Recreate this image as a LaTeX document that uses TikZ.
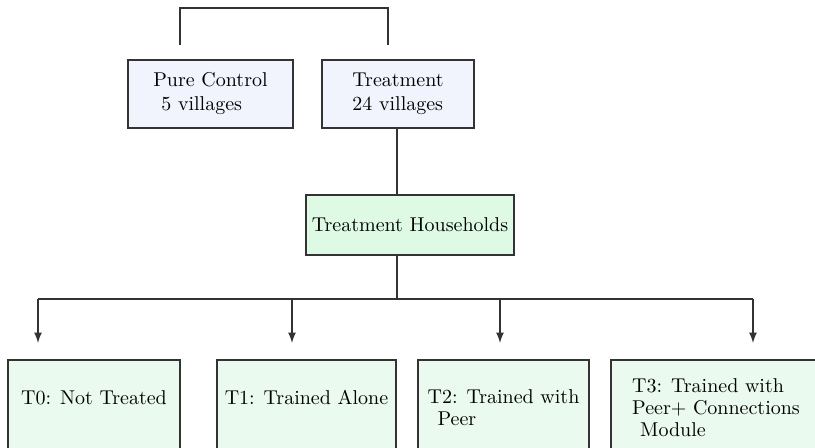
\documentclass[tikz,border=0pt]{standalone}
\usepackage{amsmath}
\usepackage{tikz}
\definecolor{villageblue}{RGB}{241,244,253}
\definecolor{hhgreen}{RGB}{222,250,229}
\definecolor{armgreen}{RGB}{235,250,239}

\begin{document}
\begin{tikzpicture}[x=0.5pt,y=-0.5pt,thick,draw=black!80]
\tikzstyle{box}=[draw=black!80,rectangle,inner sep=3pt,align=left]
\tikzstyle{village}=[box,fill=villageblue,minimum height=34pt]
\tikzstyle{hh}=[box,fill=hhgreen,minimum width=104pt,minimum height=30pt]
\tikzstyle{arm}=[box,fill=armgreen,anchor=north,minimum height=48pt,
  execute at begin node=\setlength{\baselineskip}{11pt}]

\useasboundingbox (0,0) rectangle (815,448);

\node[village,minimum width=82.5pt] (pc) at (210.5,94) {Pure Control\\\hspace{4pt}5 villages};
\node[village,minimum width=76pt] (tr) at (398,94) {Treatment\\24 villages};
\node[hh] (hh) at (410,225) {Treatment Households};

\node[arm,minimum width=86pt,text depth=10pt] (t0) at (94,359) {T0: Not Treated};
\node[arm,minimum width=89.5pt,text depth=10pt] (t1) at (306.5,359) {T1: Trained Alone};
\node[arm,minimum width=85.5pt] (t2) at (503.5,359) {T2: Trained with\\\hspace{5pt}Peer};
\node[arm,minimum width=105pt] (t3) at (716,359) {T3: Trained with\\Peer+ Connections\\\hspace{4pt}Module};

% bracket over the village groups
\coordinate (bl) at (180,45);
\coordinate (br) at (388,45);
\draw (bl) -- ++(0,-37) -| (br);

\coordinate (split) at (397,299);
\draw (split |- tr.south) -- (split |- hh.north);
\draw (split |- hh.south) -- (split);

\coordinate (a0) at (38,343);
\coordinate (a1) at (292,343);
\coordinate (a2) at (500,343);
\coordinate (a3) at (753,343);
\draw (a0 |- split) -- (a3 |- split);
\foreach \a in {a0,a1,a2,a3}
\draw[-latex] (\a |- split) -- (\a);
\end{tikzpicture}
\end{document}
